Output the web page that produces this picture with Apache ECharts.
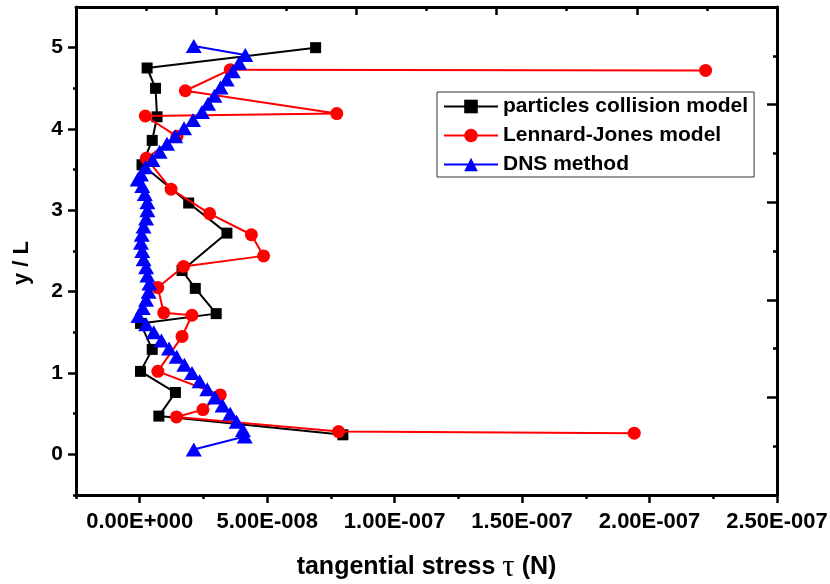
<!DOCTYPE html>
<html>
<head>
<meta charset="utf-8">
<script src="https://cdn.jsdelivr.net/npm/echarts@6/dist/echarts.min.js"></script>
<style>html,body{margin:0;padding:0;background:#fff}#c{width:830px;height:584px}</style>
</head>
<body>
<div id="c"></div>
<script>
// x values in units of 1e-8 N
var seriesNames = ['particles collision model', 'Lennard-Jones model', 'DNS method'];
var blackX = [6.9, 0.29, 0.62, 0.68, 0.49, 0.09, 1.92, 3.42, 1.66, 2.18, 3.0, 0.03, 0.49, 0.03, 1.40, 0.75, 7.97];
var blackY = [5.0, 4.75, 4.50, 4.15, 3.86, 3.56, 3.09, 2.72, 2.26, 2.04, 1.73, 1.61, 1.29, 1.02, 0.76, 0.47, 0.24];
var redX = [22.2, 3.55, 1.79, 7.73, 0.22, 1.46, 0.26, 1.23, 2.74, 4.38, 4.86, 1.72, 0.71, 0.94, 2.05, 1.66, 0.71, 3.16, 2.48, 1.44, 7.80, 19.4];
var redY = [4.72, 4.73, 4.47, 4.19, 4.16, 3.91, 3.64, 3.26, 2.96, 2.70, 2.44, 2.31, 2.05, 1.74, 1.71, 1.45, 1.02, 0.73, 0.55, 0.46, 0.28, 0.26];
var blueX = [2.12, 4.14, 3.90, 3.65, 3.41, 3.17, 2.93, 2.68, 2.44, 2.09, 1.74, 1.39, 1.07, 0.78, 0.50, 0.22, 0.05, -0.08, 0.10, 0.20, 0.30, 0.30, 0.25, 0.15, 0.08, 0.05, 0.10, 0.15, 0.25, 0.30, 0.38, 0.35, 0.25, 0.12, -0.05, 0.25, 0.55, 0.85, 1.15, 1.45, 1.75, 2.05, 2.35, 2.65, 2.95, 3.25, 3.55, 3.80, 4.05, 4.12, 2.12];
var blueY = [5.02, 4.91, 4.81, 4.71, 4.61, 4.51, 4.41, 4.31, 4.21, 4.11, 4.01, 3.91, 3.82, 3.72, 3.62, 3.53, 3.44, 3.38, 3.30, 3.20, 3.10, 3.00, 2.90, 2.80, 2.70, 2.60, 2.50, 2.40, 2.30, 2.20, 2.10, 2.00, 1.90, 1.80, 1.70, 1.60, 1.50, 1.40, 1.30, 1.20, 1.10, 1.00, 0.90, 0.80, 0.70, 0.60, 0.50, 0.40, 0.30, 0.22, 0.06];
var xTickLabels = [0, 5, 10, 15, 20, 25];
var xMinorTicks = [-2.5, 2.5, 7.5, 12.5, 17.5, 22.5];
var yTickLabels = [0, 1, 2, 3, 4, 5];
var yMinorTicks = [-0.5, 0.5, 1.5, 2.5, 3.5, 4.5];

function zip(a, b) { return a.map(function (v, i) { return [v, b[i]]; }); }
function fmtE(v) {
  var s = (v * 1e-8).toExponential(2);
  if (Math.abs(v) < 1e-9) s = (0).toExponential(2);
  var parts = s.split('e');
  var sign = parts[1].charAt(0);
  var digits = parts[1].slice(1);
  while (digits.length < 3) digits = '0' + digits;
  return parts[0] + 'E' + sign + digits;
}
var FONT = '"Liberation Sans", Arial, sans-serif';
var axisLine = { show: true, onZero: false, lineStyle: { color: '#000', width: 3 } };
var hiddenLine = { show: false, onZero: false };

var chart = echarts.init(document.getElementById('c'), null, { renderer: 'canvas' });
chart.setOption({
  animation: false,
  backgroundColor: '#fff',
  grid: { left: 76, right: 53, top: 7, bottom: 89, containLabel: false, outerBoundsMode: 'none' },
  legend: {
    orient: 'vertical', left: 437, top: 92,
    padding: [4, 6, 2, 6], itemGap: 8, itemWidth: 54, itemHeight: 17,
    borderColor: '#333', borderWidth: 1, backgroundColor: '#fff',
    textStyle: { fontFamily: FONT, fontWeight: 'bold', fontSize: 21, color: '#000' },
    data: seriesNames
  },
  xAxis: [
    {
      type: 'value', position: 'bottom', min: -2.5, max: 25,
      axisLine: axisLine,
      axisTick: { show: true, customValues: xTickLabels, length: 8, lineStyle: { color: '#000', width: 2.5 } },
      axisLabel: { show: true, customValues: xTickLabels, formatter: fmtE, margin: 16,
        fontFamily: FONT, fontWeight: 'bold', fontSize: 22, color: '#000' },
      splitLine: { show: false },
      name: '{a|tangential stress }{t|τ}{a| (N)}', nameLocation: 'middle', nameGap: 57,
      nameTextStyle: { rich: {
        a: { fontFamily: FONT, fontWeight: 'bold', fontSize: 25, color: '#000' },
        t: { fontFamily: '"Liberation Serif", serif', fontSize: 31, color: '#000' }
      } }
    },
    {
      type: 'value', position: 'top', min: 0, max: 10, interval: 2,
      axisLine: axisLine,
      axisTick: { show: true, inside: true, length: 8, lineStyle: { color: '#000', width: 2.5 } },
      minorTick: { show: true, splitNumber: 2, length: 4, lineStyle: { color: '#000', width: 2.5 } },
      axisLabel: { show: false }, splitLine: { show: false }, minorSplitLine: { show: false }
    },
    {
      type: 'value', position: 'bottom', min: -2.5, max: 25,
      axisLine: hiddenLine,
      axisTick: { show: true, customValues: xMinorTicks, length: 4, lineStyle: { color: '#000', width: 2.5 } },
      axisLabel: { show: false }, splitLine: { show: false }
    }
  ],
  yAxis: [
    {
      type: 'value', position: 'left', min: -0.5, max: 5.5,
      axisLine: axisLine,
      axisTick: { show: true, customValues: yTickLabels, length: 8, lineStyle: { color: '#000', width: 2.5 } },
      axisLabel: { show: true, customValues: yTickLabels, margin: 13,
        fontFamily: FONT, fontWeight: 'bold', fontSize: 21, color: '#000' },
      splitLine: { show: false },
      name: 'y / L', nameLocation: 'middle', nameGap: 43, nameRotate: 90,
      nameTextStyle: { fontFamily: FONT, fontWeight: 'bold', fontSize: 22, color: '#000', padding: [0, 24, 0, 0] }
    },
    {
      type: 'value', position: 'right', min: 0, max: 10, interval: 2,
      axisLine: axisLine,
      axisTick: { show: true, inside: true, length: 10, lineStyle: { color: '#000', width: 2.5 } },
      minorTick: { show: true, splitNumber: 2, length: 4, lineStyle: { color: '#000', width: 2.5 } },
      axisLabel: { show: false }, splitLine: { show: false }, minorSplitLine: { show: false }
    },
    {
      type: 'value', position: 'left', min: -0.5, max: 5.5,
      axisLine: hiddenLine,
      axisTick: { show: true, customValues: yMinorTicks, length: 3, lineStyle: { color: '#000', width: 2.5 } },
      axisLabel: { show: false }, splitLine: { show: false }
    }
  ],
  series: [
    {
      name: seriesNames[0], type: 'line', xAxisIndex: 0, yAxisIndex: 0,
      data: zip(blackX, blackY), symbol: 'rect', symbolSize: 11,
      lineStyle: { color: '#000', width: 2 }, itemStyle: { color: '#000' }, z: 2
    },
    {
      name: seriesNames[1], type: 'line', xAxisIndex: 0, yAxisIndex: 0,
      data: zip(redX, redY), symbol: 'circle', symbolSize: 13,
      lineStyle: { color: '#ff0000', width: 2 }, itemStyle: { color: '#ff0000' }, z: 3
    },
    {
      name: seriesNames[2], type: 'line', xAxisIndex: 0, yAxisIndex: 0,
      data: zip(blueX, blueY), symbol: 'triangle', symbolSize: [16, 14],
      lineStyle: { color: '#0000ff', width: 2 }, itemStyle: { color: '#0000ff' }, z: 4
    }
  ]
});
</script>
</body>
</html>
